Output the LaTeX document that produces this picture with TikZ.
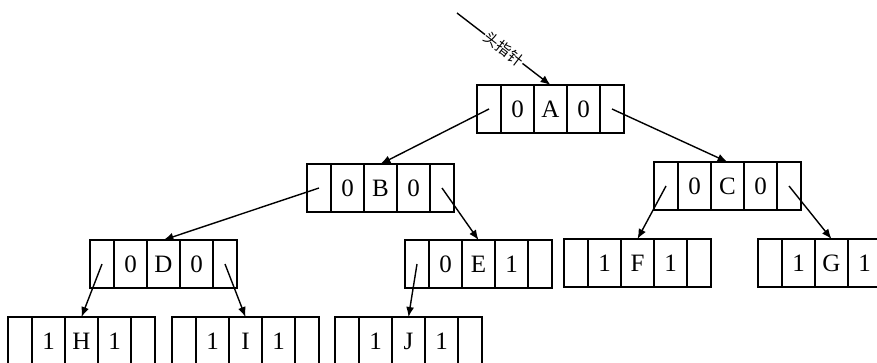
\documentclass[tikz,border=0pt]{standalone}
\usepackage{fontspec}
\setmainfont{Liberation Serif}
\newfontfamily\cjk{Noto Sans CJK SC}
\usetikzlibrary{arrows.meta}
\tikzset{
  cellbase/.style={draw, line width=1.4pt, inner sep=0pt, outer sep=0pt,
    minimum height=48pt, font=\fontsize{25}{25}\selectfont},
  outcell/.style={cellbase, minimum width=24pt},
  incell/.style={cellbase, minimum width=33pt},
  ptr/.style={line width=1.4pt, -{Latex[length=10pt,width=8pt]}},
  headlbl/.style={sloped, fill=white, inner sep=1pt, font=\cjk\fontsize{15}{15}\selectfont}
}
\newcommand\cellrow[6]{%
  \node[outcell, anchor=north west] (#1-l) at (#2,#3) {};
  \node[incell, anchor=west] (#1-a) at (#1-l.east) {#4};
  \node[incell, anchor=west] (#1-m) at (#1-a.east) {#5};
  \node[incell, anchor=west] (#1-b) at (#1-m.east) {#6};
  \node[outcell, anchor=west] (#1-r) at (#1-b.east) {};
}
\begin{document}
\begin{tikzpicture}[x=1pt, y=-1pt]
\useasboundingbox (0,0) rectangle (877,362);
\clip (0,0) rectangle (877,362);
\cellrow{A}{477}{85}{0}{A}{0}
\cellrow{B}{307}{164}{0}{B}{0}
\cellrow{C}{654}{162}{0}{C}{0}
\cellrow{D}{90}{240}{0}{D}{0}
\cellrow{E}{405}{240}{0}{E}{1}
\cellrow{F}{564}{239}{1}{F}{1}
\cellrow{G}{758}{239}{1}{G}{1}
\cellrow{H}{8}{317}{1}{H}{1}
\cellrow{I}{172}{317}{1}{I}{1}
\cellrow{J}{335}{317}{1}{J}{1}
\coordinate (hp) at (457,13);
\draw[ptr] (hp) -- node[headlbl] {头指针} (A-m.north);
\draw[ptr] (A-l.center) -- (B-m.north);
\draw[ptr] (A-r.center) -- (C-m.north);
\draw[ptr] (B-l.center) -- (D-m.north);
\draw[ptr] (B-r.center) -- (E-m.north);
\draw[ptr] (C-l.center) -- (F-m.north);
\draw[ptr] (C-r.center) -- (G-m.north);
\draw[ptr] (D-l.center) -- (H-m.north);
\draw[ptr] (D-r.center) -- (I-m.north);
\draw[ptr] (E-l.center) -- (J-m.north);
\end{tikzpicture}
\end{document}
